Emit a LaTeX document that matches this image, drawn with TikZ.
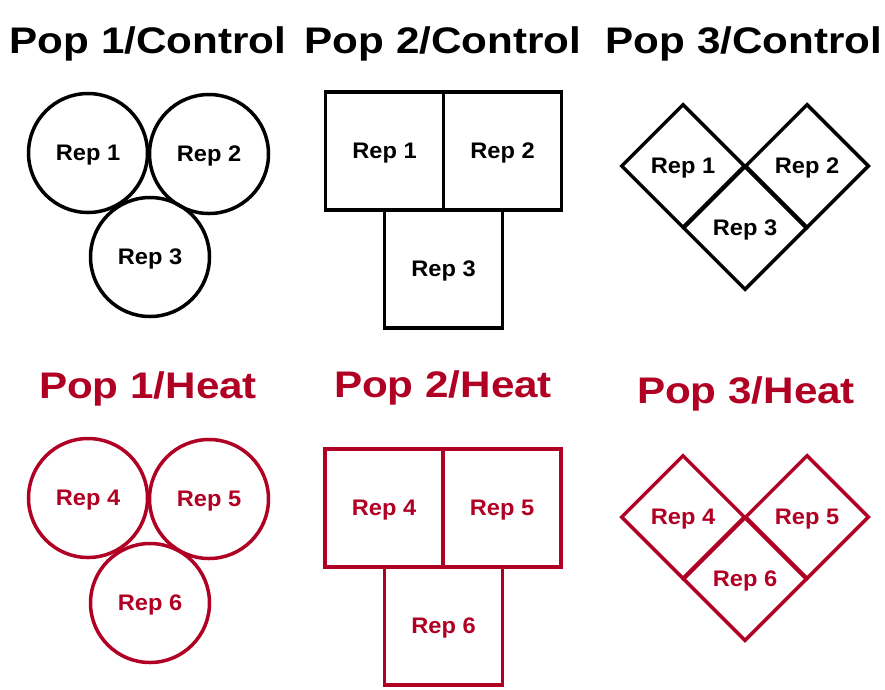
\documentclass[tikz,border=0pt]{standalone}
\usepackage{graphicx}
\usepackage{fontspec}
\setmainfont{Liberation Sans}
\usetikzlibrary{shapes.geometric}
\definecolor{heatred}{RGB}{176,0,35}
\newcommand{\ttl}[1]{\scalebox{1.14}[1]{#1}}
\newcommand{\rp}[1]{\scalebox{1.05}[1]{#1}}
\tikzset{
  title/.style={anchor=base, inner sep=0pt, font=\fontsize{37}{40}\selectfont\bfseries},
  lbl/.style={font=\fontsize{22.5}{24}\selectfont\bfseries, inner sep=0pt, text depth=0pt},
  shp/.style={line width=3.5pt, inner sep=0pt},
  repcirc/.style={shp, circle, minimum size=119pt},
  repsq/.style={shp, rectangle, minimum width=118pt, minimum height=118pt},
  repdia/.style={shp, diamond, aspect=1, minimum width=124pt, minimum height=124pt},
  ctrl/.style={draw=black, text=black},
  heat/.style={draw=heatred, text=heatred},
}
\begin{document}
\begin{tikzpicture}[x=1pt,y=-1pt]
\useasboundingbox (0,0) rectangle (885,689);
% titles
\node[title] (t1) at (148,53) {\ttl{Pop 1/Control}};
\node[title] (t2) at (443,53) {\ttl{Pop 2/Control}};
\node[title] (t3) at (744,53) {\ttl{Pop 3/Control}};
\node[title, text=heatred] (t4) at (148,398) {\ttl{Pop 1/Heat}};
\node[title, text=heatred] (t5) at (443,397) {\ttl{Pop 2/Heat}};
\node[title, text=heatred] (t6) at (746,403) {\ttl{Pop 3/Heat}};
% Pop 1 control circles
\node[repcirc, ctrl, lbl] (c1) at (88,153) {\rp{Rep 1}};
\node[repcirc, ctrl, lbl] (c2) at (209,154) {\rp{Rep 2}};
\node[repcirc, ctrl, lbl] (c3) at (150,257) {\rp{Rep 3}};
% Pop 2 control squares
\node[repsq, ctrl, lbl] (s1) at (384.5,151) {\rp{Rep 1}};
\node[repsq, ctrl, lbl] (s2) at (502.5,151) {\rp{Rep 2}};
\node[repsq, ctrl, lbl] (s3) at (443.5,269) {\rp{Rep 3}};
% Pop 3 control diamonds
\node[repdia, ctrl, lbl] (d1) at (683,166) {\rp{Rep 1}};
\node[repdia, ctrl, lbl] (d2) at (807,166) {\rp{Rep 2}};
\node[repdia, ctrl, lbl] (d3) at (745,228) {\rp{Rep 3}};
% Pop 1 heat circles
\node[repcirc, heat, lbl] (c4) at (88,498) {\rp{Rep 4}};
\node[repcirc, heat, lbl] (c5) at (209,499) {\rp{Rep 5}};
\node[repcirc, heat, lbl] (c6) at (150,603) {\rp{Rep 6}};
% Pop 2 heat squares
\node[repsq, heat, lbl] (s4) at (384,508) {\rp{Rep 4}};
\node[repsq, heat, lbl] (s5) at (502,508) {\rp{Rep 5}};
\node[repsq, heat, lbl] (s6) at (443.5,626) {\rp{Rep 6}};
% Pop 3 heat diamonds
\node[repdia, heat, lbl] (d4) at (683,517) {\rp{Rep 4}};
\node[repdia, heat, lbl] (d5) at (807,517) {\rp{Rep 5}};
\node[repdia, heat, lbl] (d6) at (745,579) {\rp{Rep 6}};
\end{tikzpicture}
\end{document}
